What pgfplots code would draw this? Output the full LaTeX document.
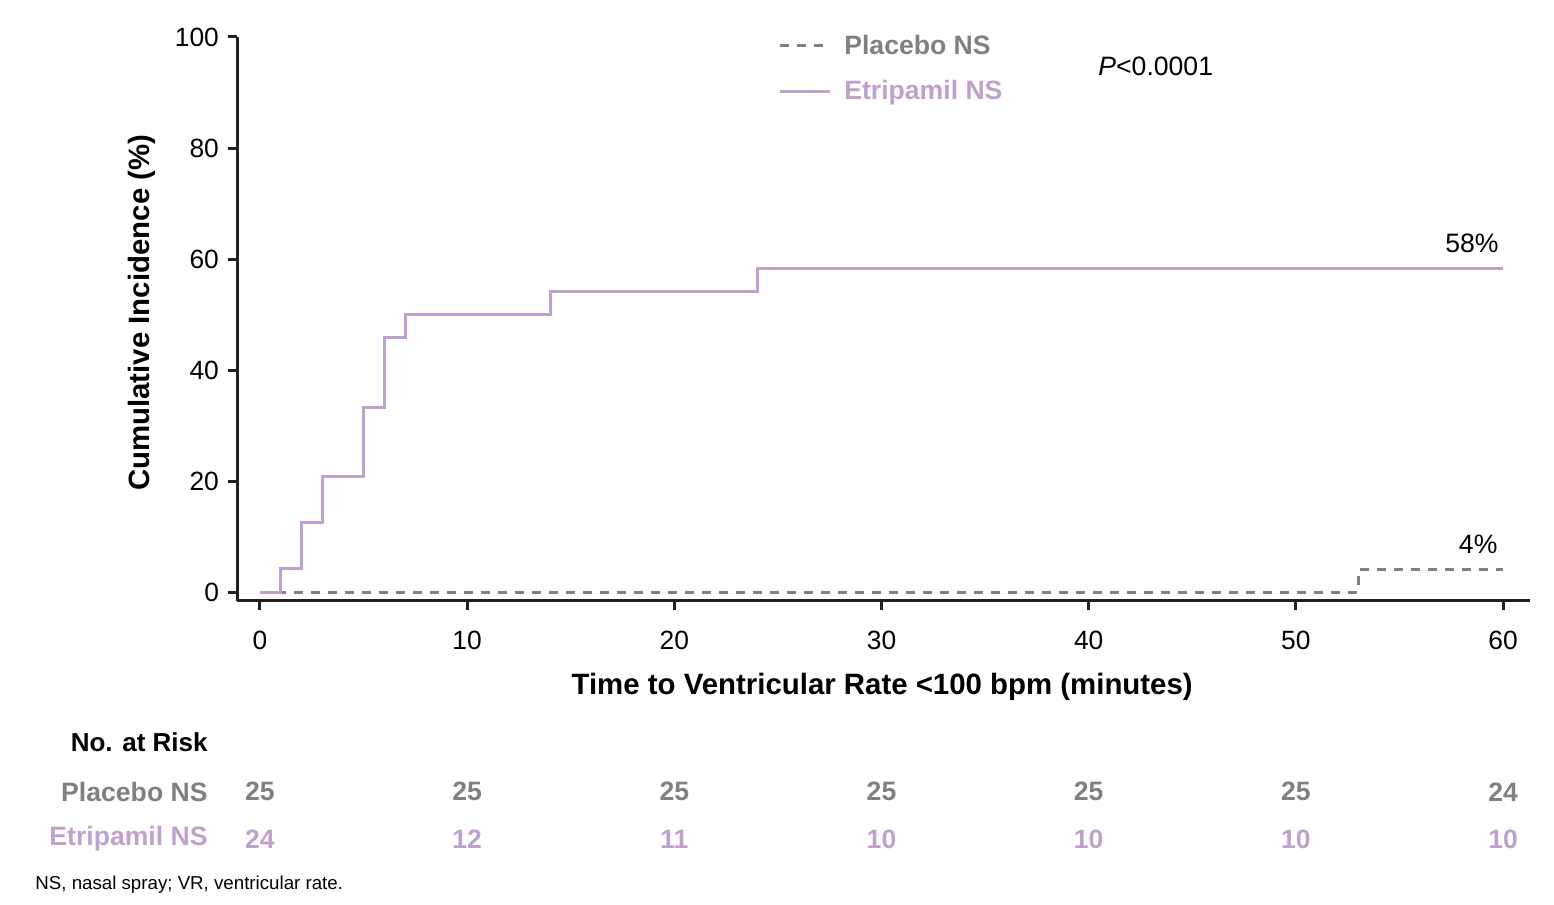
\documentclass[border=0pt]{standalone}
\usepackage{fontspec}
\setmainfont{Liberation Sans}
\usepackage{pgfplots}
\pgfplotsset{compat=1.18}
\definecolor{etrip}{RGB}{192,160,206}
\definecolor{plac}{RGB}{128,128,128}
\definecolor{axblack}{RGB}{35,31,32}

\begin{document}
\begin{tikzpicture}
\useasboundingbox (0,0) rectangle (777pt,452.5pt);
\begin{axis}[
  at={(118.5pt,152pt)}, anchor=south west,
  scale only axis, width=646.5pt, height=282pt,
  xmin=-1.11, xmax=61.3, ymin=-1.62, ymax=100,
  axis x line*=bottom, axis y line*=left,
  axis line style={line width=1.5pt, color=axblack},
  xtick={0,10,...,60}, ytick={0,20,...,100},
  tick align=outside, major tick length=4.5pt,
  tick style={line width=1.5pt, color=axblack},
  ticklabel style={font=\fontsize{13.2}{15}\selectfont, color=black},
  xticklabel style={yshift=-7pt},
  yticklabel style={xshift=-1pt},
  /pgf/number format/assume math mode=true,
  clip=false,
  xlabel={\textbf{Time to Ventricular Rate <100 bpm (minutes)}},
  ylabel={\textbf{Cumulative Incidence (\%)}},
  xlabel style={at={(axis description cs:0.499,-0.153)}, anchor=center, font=\fontsize{14.7}{17}\selectfont},
  ylabel style={at={(axis description cs:-0.0735,0.511)}, anchor=center, rotate=0, font=\fontsize{14.7}{17}\selectfont},
  legend style={at={(axis cs:25.0,101.2)}, anchor=north west, draw=none, fill=none,
    font=\fontsize{13.3}{16}\selectfont, row sep=7.5pt, inner sep=0pt,
    /tikz/every odd column/.append style={column sep=4.5pt}},
  legend cell align=left,
  legend image code/.code={\draw[#1] (0pt,0pt) -- (25pt,0pt);},
]
% placebo
\addplot[const plot mark left, color=plac, line width=1.5pt, dash pattern=on 4.5pt off 4pt] coordinates {
  (0,0) (53,0) (53,4) (60,4)
};
\addlegendentry{\textcolor{plac}{\textbf{Placebo NS}}}
% etripamil
\addplot[const plot mark left, color=etrip, line width=1.5pt] coordinates {
  (0,0) (1,4.17) (2,12.5) (3,20.83) (5,33.33) (6,45.83) (7,50) (14,54.17) (24,58.33) (60,58.33)
};
\addlegendentry{\textcolor{etrip}{\textbf{Etripamil NS}}}

\node[font=\fontsize{13.3}{15}\selectfont] at (axis cs:58.5,62.9) {58\%};
\node[font=\fontsize{13.3}{15}\selectfont] at (axis cs:58.8,8.5) {4\%};
\node[anchor=west, inner sep=0pt, font=\fontsize{13.3}{15}\selectfont] at (axis cs:40.45,94.8) {\textit{P}<0.0001};

% number at risk
\node[anchor=east, inner sep=0pt, font=\bfseries\fontsize{13}{15}\selectfont] at (axis cs:-2.51,-27.0) {No. at Risk};
\node[anchor=east, inner sep=0pt, font=\bfseries\fontsize{13.3}{15}\selectfont, color=plac] at (axis cs:-2.51,-36.0) {Placebo NS};
\node[anchor=east, inner sep=0pt, font=\bfseries\fontsize{13.3}{15}\selectfont, color=etrip] at (axis cs:-2.51,-44.5) {Etripamil NS};
\begin{scope}[every node/.style={font=\bfseries\fontsize{13.3}{15}\selectfont, color=plac}]
\node at (axis cs:0,-36.0) {25};
\node at (axis cs:10,-36.0) {25};
\node at (axis cs:20,-36.0) {25};
\node at (axis cs:30,-36.0) {25};
\node at (axis cs:40,-36.0) {25};
\node at (axis cs:50,-36.0) {25};
\node at (axis cs:60,-36.1) {24};
\end{scope}
\begin{scope}[every node/.style={font=\bfseries\fontsize{13.3}{15}\selectfont, color=etrip}]
\node at (axis cs:0,-44.5) {24};
\node at (axis cs:10,-44.5) {12};
\node at (axis cs:20,-44.5) {11};
\node at (axis cs:30,-44.5) {10};
\node at (axis cs:40,-44.5) {10};
\node at (axis cs:50,-44.5) {10};
\node at (axis cs:60,-44.5) {10};
\end{scope}
\node[anchor=west, inner sep=0pt, font=\fontsize{9.35}{11}\selectfont] at (axis cs:-10.86,-52.8) {NS, nasal spray; VR, ventricular rate.};
\end{axis}
\end{tikzpicture}
\end{document}
